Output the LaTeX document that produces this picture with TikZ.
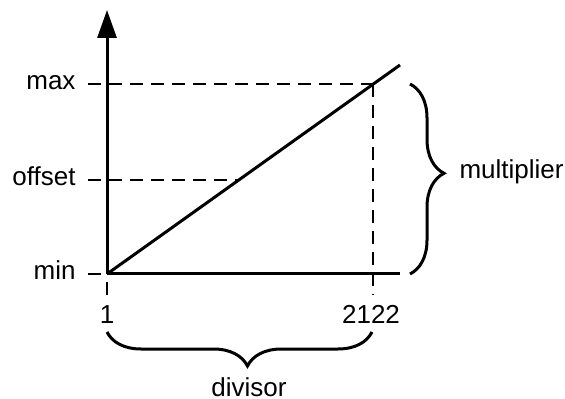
\documentclass[tikz,border=0pt]{standalone}
\usepackage{fontspec}
\setmainfont{Liberation Sans}
\usetikzlibrary{arrows.meta,decorations.pathreplacing,positioning,calc}

\tikzset{
  guide/.style={line width=0.75pt, dash pattern=on 6.5pt off 4pt},
  lbl/.style={inner sep=0pt, font=\fontsize{13}{15}\selectfont},
  curly/.style={decorate, decoration={brace, amplitude=17pt, aspect=0.47}}
}

\begin{document}
\begin{tikzpicture}[x=0.5pt,y=-0.5pt,line width=1.5pt]
  \useasboundingbox (0,0) rectangle (565,399);

  % points of the plot
  \coordinate (origin) at (107,274);
  \coordinate (ytop) at (107,10);
  \coordinate (xend) at (400,274);
  \coordinate (lineend) at (400,65);
  \coordinate (hit) at (373,84);
  \coordinate (offhit) at (239,180);

  % labels on the axes
  \node[lbl, anchor=mid east] (max) at (77,84) {max};
  \node[lbl, anchor=mid east] (offset) at (77,180) {offset};
  \node[lbl, anchor=mid east] (min) at (77,274) {min};
  \node[lbl, anchor=north] (one) at (107,304) {1};
  \node[lbl, anchor=north] (last) at (371,304) {2122};

  % dashed guides
  \draw[guide] ([xshift=5.5pt]max.mid east) -- (hit);
  \draw[guide] ([xshift=5.5pt]offset.mid east) -- (offhit);
  \draw[guide] ([xshift=5.5pt]min.mid east) -- (origin);
  \draw[guide] (hit) -- ($(hit |- last.north)+(0,-9)$);
  \draw[line width=0.75pt] ([yshift=4.5pt]one.north) -- ++(0,-13);

  % the axes and the line
  \draw[-{Triangle[length=14pt,width=9.5pt]}] (origin) -- (ytop);
  \draw (origin) -- (xend);
  \draw (origin) -- (lineend);

  % braces
  \coordinate (mtop) at (410,84);
  \coordinate (mbot) at (410,274);
  \draw[curly] (mtop) -- (mbot);
  \node[lbl, anchor=mid west] (mult) at (458,173) {multiplier};

  \coordinate (dright) at (372,332);
  \coordinate (dleft) at (107,332);
  \draw[curly] (dright) -- (dleft);
  \node[lbl, anchor=base] (div) at (249,396) {divisor};

\end{tikzpicture}
\end{document}
